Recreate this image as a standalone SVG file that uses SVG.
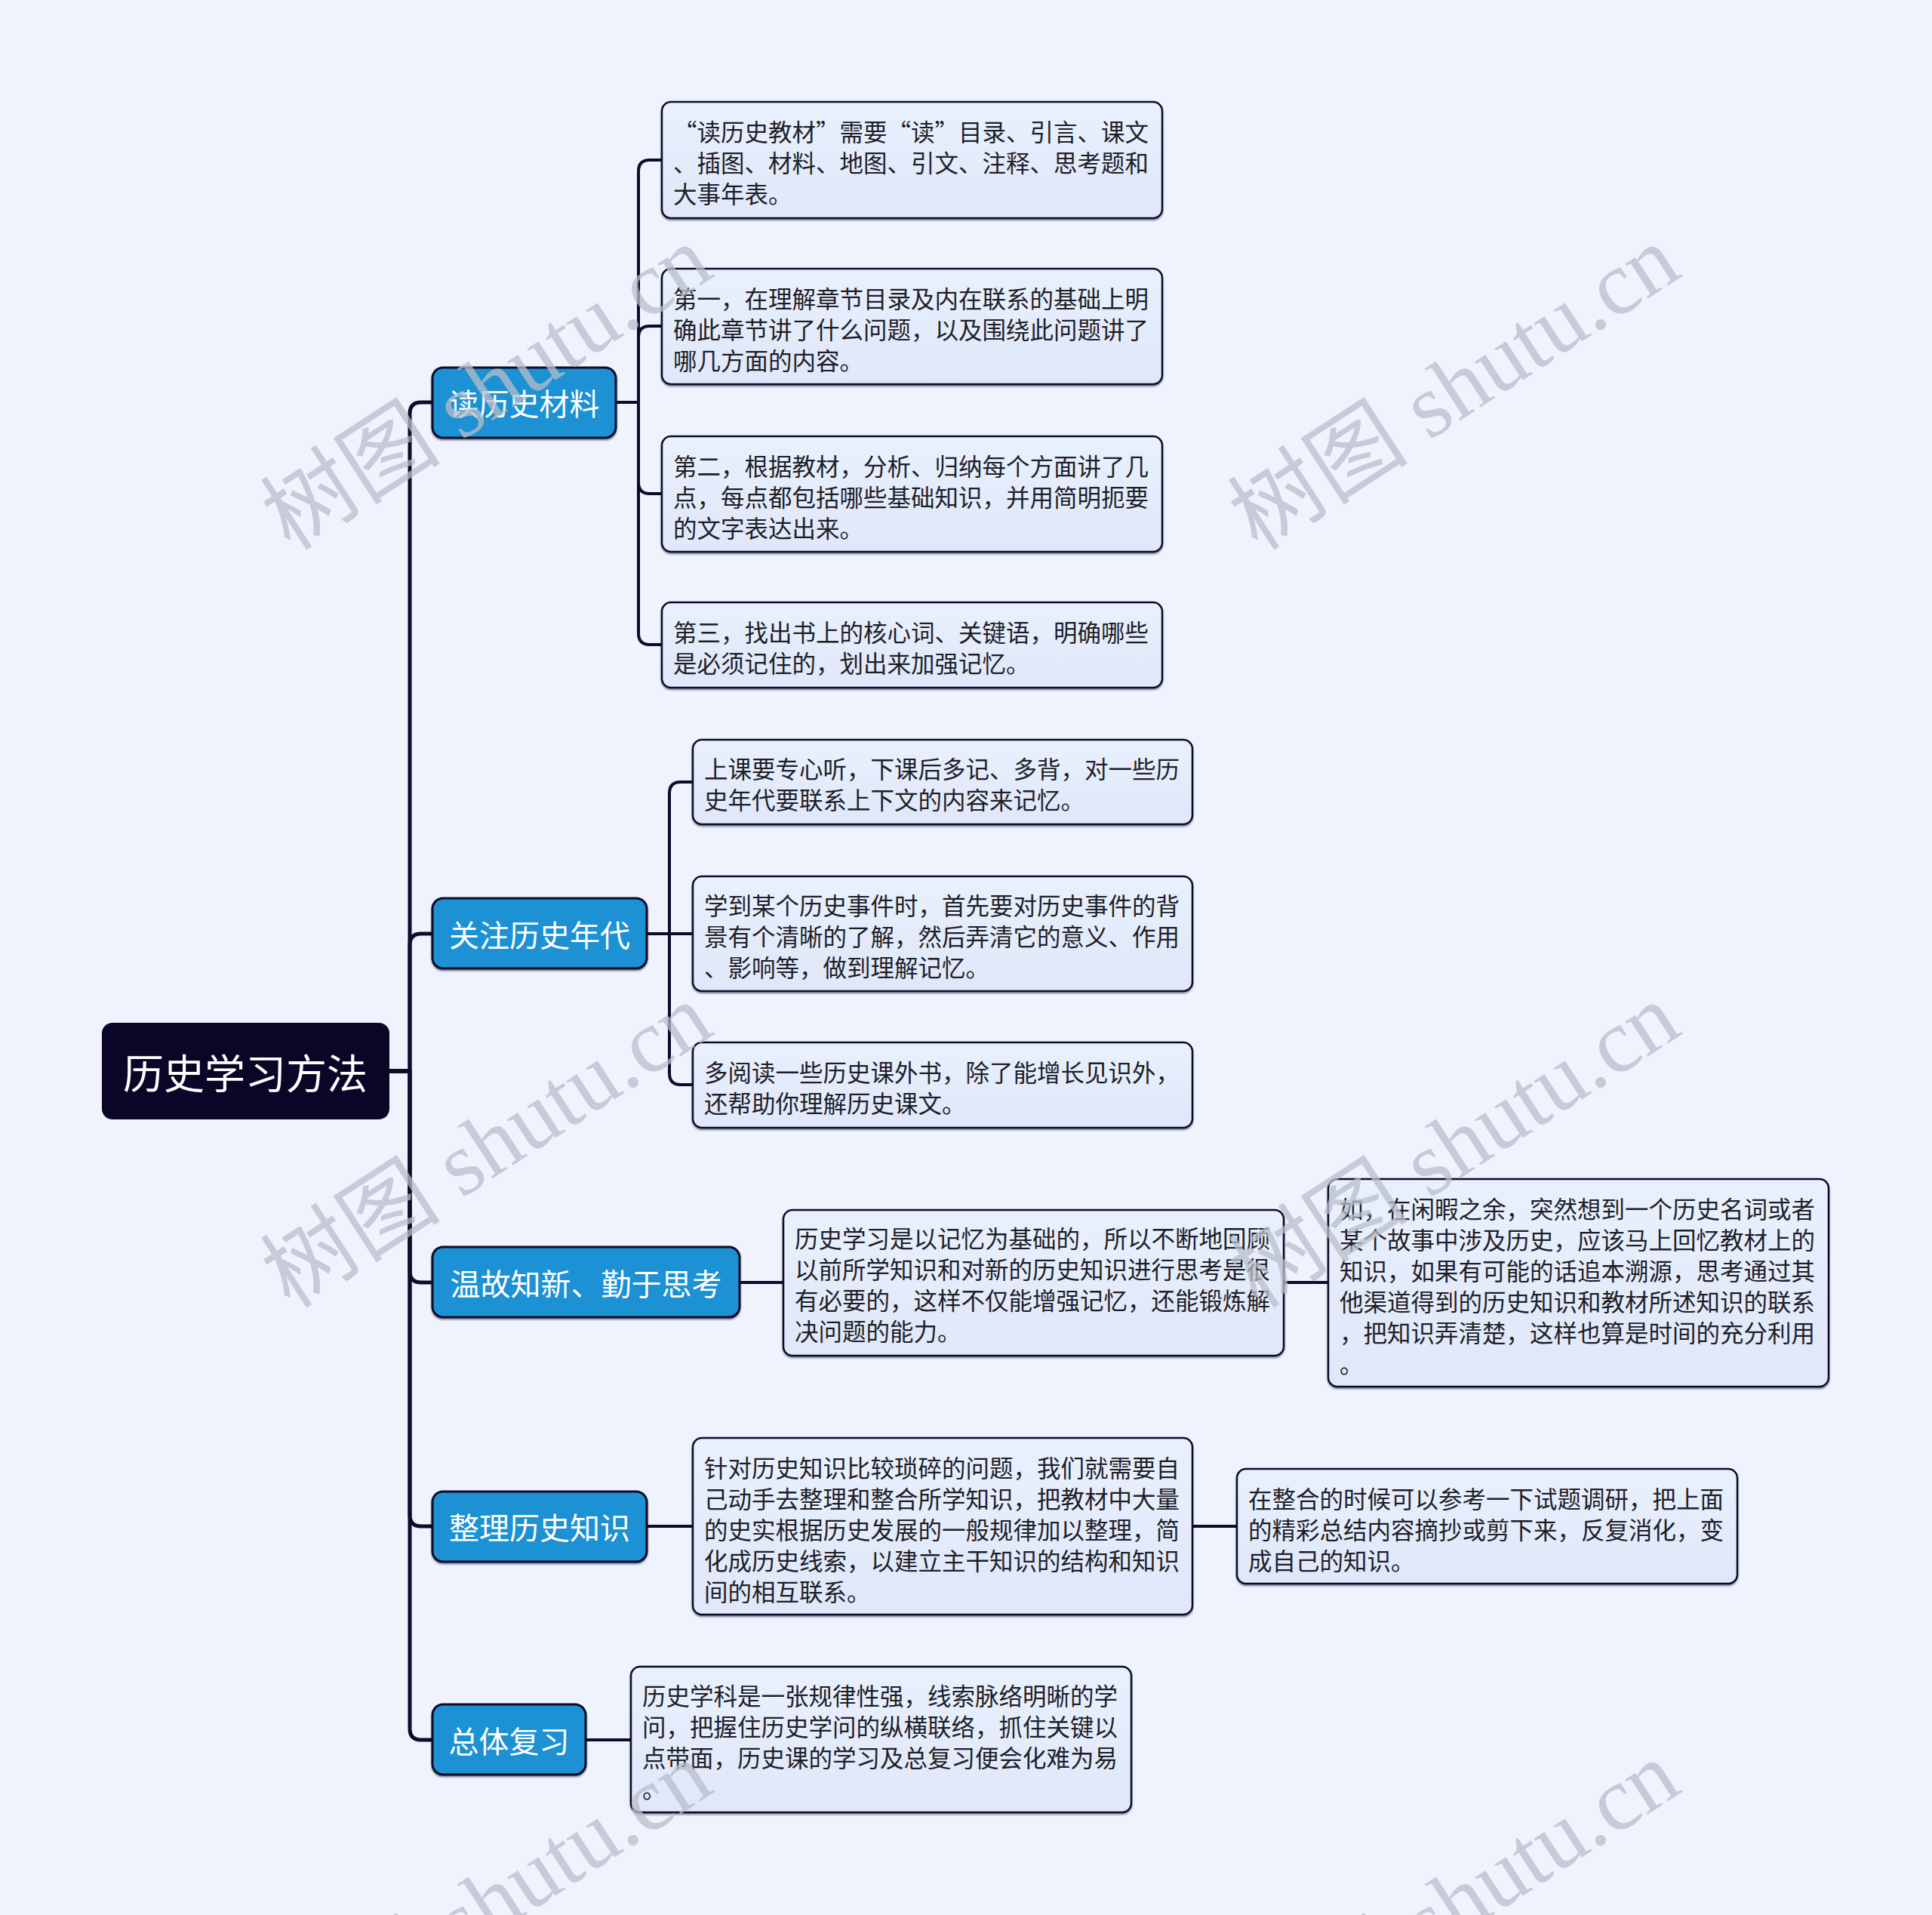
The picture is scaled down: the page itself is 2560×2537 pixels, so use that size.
<svg xmlns="http://www.w3.org/2000/svg" width="2560" height="2537" viewBox="0 0 2560 2537">
<defs>
<linearGradient id="leafGrad" x1="0" y1="0" x2="0" y2="1">
<stop offset="0" stop-color="#e9f0fd"/>
<stop offset="1" stop-color="#dfe7f9"/>
</linearGradient>
<filter id="sh" x="-5%" y="-5%" width="110%" height="115%">
<feDropShadow dx="0" dy="2" stdDeviation="1.2" flood-color="#0b0828" flood-opacity="0.45"/>
</filter>
</defs>
<style>
.bg{fill:#eef3fe}
.conn path{fill:none;stroke:#0e0b2b;stroke-width:4;stroke-linecap:round;stroke-linejoin:round}
.conn path.trunk{stroke-width:5}
.root rect{fill:#0b0628}
.root text{fill:#ffffff;font-family:"Noto Sans CJK SC","Noto Sans",sans-serif;font-size:54px;text-anchor:middle;dominant-baseline:central}
.branch rect{fill:#1a91d3;stroke:#0e0b2b;stroke-width:3}
.branch text{fill:#ffffff;font-family:"Noto Sans CJK SC","Noto Sans",sans-serif;font-size:40px;text-anchor:middle;dominant-baseline:central}
.leaf rect{fill:url(#leafGrad);stroke:#0e0b2b;stroke-width:2.5}
.leaf text{fill:#1e1e28;font-family:"Noto Sans CJK SC","Noto Sans",sans-serif;font-size:31.5px;dominant-baseline:central}
.wm text{fill:#b9bdc9;fill-opacity:0.75;font-family:"Liberation Serif","Noto Sans CJK SC",serif;font-size:120px;text-anchor:middle;dominant-baseline:central}
</style>
<rect class="bg" x="0" y="0" width="2560" height="2537"/>

<g id="connectors" class="conn">
<path class="trunk" d="M516,1419 H543 V548 Q543,533 558,533 H573"/>
<path class="trunk" d="M516,1419 H543 V1252 Q543,1237 558,1237 H573"/>
<path class="trunk" d="M516,1419 H543 V1684 Q543,1699 558,1699 H573"/>
<path class="trunk" d="M516,1419 H543 V2007 Q543,2022 558,2022 H573"/>
<path class="trunk" d="M516,1419 H543 V2290 Q543,2305 558,2305 H573"/>
<path d="M816,533 H846 V227 Q846,212 861,212 H877"/>
<path d="M816,533 H846 V447 Q846,432 861,432 H877"/>
<path d="M816,533 H846 V639 Q846,654 861,654 H877"/>
<path d="M816,533 H846 V839 Q846,854 861,854 H877"/>
<path d="M857,1237 H887 V1051 Q887,1036 902,1036 H918"/>
<path d="M857,1237 H918"/>
<path d="M857,1237 H887 V1422 Q887,1437 902,1437 H918"/>
<path d="M980,1699 H1038"/>
<path d="M1701,1699 H1760"/>
<path d="M857,2022 H918"/>
<path d="M1580,2022 H1639"/>
<path d="M776,2305 H836"/>
</g>

<g id="root" class="root">
<rect x="135" y="1355" width="381" height="128" rx="14"/>
<text x="325" y="1419">历史学习方法</text>
</g>

<g id="b1" class="branch"><rect x="573" y="487" width="243" height="93" rx="14" filter="url(#sh)"/><text x="694.5" y="533">读历史材料</text></g>
<g id="b2" class="branch"><rect x="573" y="1190" width="284" height="93" rx="14" filter="url(#sh)"/><text x="715" y="1237">关注历史年代</text></g>
<g id="b3" class="branch"><rect x="573" y="1652" width="407" height="93" rx="14" filter="url(#sh)"/><text x="776.5" y="1699">温故知新、勤于思考</text></g>
<g id="b4" class="branch"><rect x="573" y="1976" width="284" height="93" rx="14" filter="url(#sh)"/><text x="715" y="2022">整理历史知识</text></g>
<g id="b5" class="branch"><rect x="573" y="2258" width="203" height="93" rx="14" filter="url(#sh)"/><text x="674.5" y="2305">总体复习</text></g>

<g id="l1" class="leaf"><rect x="877" y="135" width="663" height="154" rx="12" filter="url(#sh)"/>
<text x="892"><tspan x="892" y="173">“读历史教材”需要“读”目录、引言、课文</tspan><tspan x="892" y="214">、插图、材料、地图、引文、注释、思考题和</tspan><tspan x="892" y="255">大事年表。</tspan></text></g>
<g id="l2" class="leaf"><rect x="877" y="356" width="663" height="153" rx="12" filter="url(#sh)"/>
<text x="892"><tspan x="892" y="394">第一，在理解章节目录及内在联系的基础上明</tspan><tspan x="892" y="435">确此章节讲了什么问题，以及围绕此问题讲了</tspan><tspan x="892" y="476">哪几方面的内容。</tspan></text></g>
<g id="l3" class="leaf"><rect x="877" y="578" width="663" height="153" rx="12" filter="url(#sh)"/>
<text x="892"><tspan x="892" y="616">第二，根据教材，分析、归纳每个方面讲了几</tspan><tspan x="892" y="657">点，每点都包括哪些基础知识，并用简明扼要</tspan><tspan x="892" y="698">的文字表达出来。</tspan></text></g>
<g id="l4" class="leaf"><rect x="877" y="798" width="663" height="113" rx="12" filter="url(#sh)"/>
<text x="892"><tspan x="892" y="836">第三，找出书上的核心词、关键语，明确哪些</tspan><tspan x="892" y="877">是必须记住的，划出来加强记忆。</tspan></text></g>

<g id="m1" class="leaf"><rect x="918" y="980" width="662" height="112" rx="12" filter="url(#sh)"/>
<text x="933"><tspan x="933" y="1017">上课要专心听，下课后多记、多背，对一些历</tspan><tspan x="933" y="1058">史年代要联系上下文的内容来记忆。</tspan></text></g>
<g id="m2" class="leaf"><rect x="918" y="1161" width="662" height="152" rx="12" filter="url(#sh)"/>
<text x="933"><tspan x="933" y="1198">学到某个历史事件时，首先要对历史事件的背</tspan><tspan x="933" y="1239">景有个清晰的了解，然后弄清它的意义、作用</tspan><tspan x="933" y="1280">、影响等，做到理解记忆。</tspan></text></g>
<g id="m3" class="leaf"><rect x="918" y="1381" width="662" height="113" rx="12" filter="url(#sh)"/>
<text x="933"><tspan x="933" y="1419">多阅读一些历史课外书，除了能增长见识外，</tspan><tspan x="933" y="1460">还帮助你理解历史课文。</tspan></text></g>

<g id="n1" class="leaf"><rect x="1038" y="1603" width="663" height="193" rx="12" filter="url(#sh)"/>
<text x="1053"><tspan x="1053" y="1639">历史学习是以记忆为基础的，所以不断地回顾</tspan><tspan x="1053" y="1680">以前所学知识和对新的历史知识进行思考是很</tspan><tspan x="1053" y="1721">有必要的，这样不仅能增强记忆，还能锻炼解</tspan><tspan x="1053" y="1762">决问题的能力。</tspan></text></g>
<g id="n2" class="leaf"><rect x="1760" y="1562" width="663" height="275" rx="12" filter="url(#sh)"/>
<text x="1775"><tspan x="1775" y="1600">如，在闲暇之余，突然想到一个历史名词或者</tspan><tspan x="1775" y="1641">某个故事中涉及历史，应该马上回忆教材上的</tspan><tspan x="1775" y="1682">知识，如果有可能的话追本溯源，思考通过其</tspan><tspan x="1775" y="1723">他渠道得到的历史知识和教材所述知识的联系</tspan><tspan x="1775" y="1764">，把知识弄清楚，这样也算是时间的充分利用</tspan><tspan x="1775" y="1805">。</tspan></text></g>

<g id="p1" class="leaf"><rect x="918" y="1905" width="662" height="234" rx="12" filter="url(#sh)"/>
<text x="933"><tspan x="933" y="1943">针对历史知识比较琐碎的问题，我们就需要自</tspan><tspan x="933" y="1984">己动手去整理和整合所学知识，把教材中大量</tspan><tspan x="933" y="2025">的史实根据历史发展的一般规律加以整理，简</tspan><tspan x="933" y="2066">化成历史线索，以建立主干知识的结构和知识</tspan><tspan x="933" y="2107">间的相互联系。</tspan></text></g>
<g id="p2" class="leaf"><rect x="1639" y="1946" width="663" height="152" rx="12" filter="url(#sh)"/>
<text x="1654"><tspan x="1654" y="1984">在整合的时候可以参考一下试题调研，把上面</tspan><tspan x="1654" y="2025">的精彩总结内容摘抄或剪下来，反复消化，变</tspan><tspan x="1654" y="2066">成自己的知识。</tspan></text></g>

<g id="q1" class="leaf"><rect x="836" y="2208" width="663" height="193" rx="12" filter="url(#sh)"/>
<text x="851"><tspan x="851" y="2245">历史学科是一张规律性强，线索脉络明晰的学</tspan><tspan x="851" y="2286">问，把握住历史学问的纵横联络，抓住关键以</tspan><tspan x="851" y="2327">点带面，历史课的学习及总复习便会化难为易</tspan><tspan x="851" y="2368">。</tspan></text></g>

<g id="watermarks" class="wm">
<text transform="translate(645,514) rotate(-33)">树图 shutu.cn</text>
<text transform="translate(1927,514) rotate(-33)">树图 shutu.cn</text>
<text transform="translate(645,1518) rotate(-33)">树图 shutu.cn</text>
<text transform="translate(1927,1518) rotate(-33)">树图 shutu.cn</text>
<text transform="translate(645,2522) rotate(-33)">树图 shutu.cn</text>
<text transform="translate(1927,2522) rotate(-33)">树图 shutu.cn</text>
</g>
</svg>
